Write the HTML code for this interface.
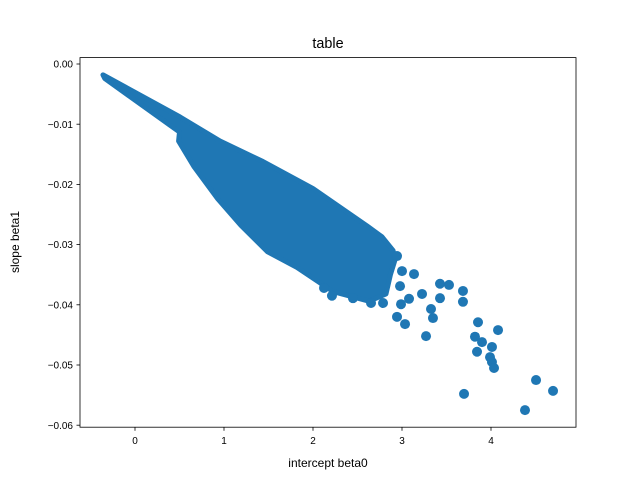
<!DOCTYPE html>
<html><head><meta charset="utf-8"><style>
body{margin:0;background:#fff}
svg text{font-family:"Liberation Sans",sans-serif;fill:#000}
</style></head><body>
<svg id="chart" width="640" height="480">
<rect width="640" height="480" fill="#fff"/>
<g id="marks"></g>
<g id="axes"></g>
<text x="328" y="48" font-size="14.4" text-anchor="middle">table</text>
<text x="328" y="467" font-size="12" text-anchor="middle">intercept beta0</text>
<text x="19" y="242" font-size="12" text-anchor="middle" transform="rotate(-90 19 242)">slope beta1</text>
</svg>
<script>
const xTicks=[0,1,2,3,4];
const yTicks=[0,-0.01,-0.02,-0.03,-0.04,-0.05,-0.06];
const yTickLabels=["0.00","−0.01","−0.02","−0.03","−0.04","−0.05","−0.06"];
// dense cloud outline (upper edge then lower edge)
const cloudUpperX=[-0.36,0.506,0.955,1.438,2.0,2.607,2.775,2.9,2.92];
const cloudUpperY=[-0.0018,-0.0088,-0.0128,-0.0162,-0.0207,-0.0269,-0.0287,-0.031,-0.0326];
const cloudLowerX=[-0.34,0.5,0.49,0.665,0.93,1.19,1.49,1.82,2.225,2.63,2.82,2.87];
const cloudLowerY=[-0.0024,-0.0113,-0.0128,-0.0171,-0.0224,-0.0268,-0.0312,-0.0338,-0.0378,-0.0394,-0.0382,-0.035];
const pointsX=[2.944,3.0,3.135,2.978,3.225,3.427,3.528,3.685,3.427,3.685,3.079,2.989,3.326,3.348,2.944,3.034,3.27,3.854,4.079,3.82,3.899,4.011,3.843,3.989,4.011,4.034,4.506,4.697,3.697,4.382,2.787,2.652,2.449,2.213,2.124];
const pointsY=[-0.0319,-0.0344,-0.0349,-0.0369,-0.0382,-0.0365,-0.0367,-0.0377,-0.0389,-0.0395,-0.039,-0.0399,-0.0407,-0.0422,-0.042,-0.0432,-0.0452,-0.0429,-0.0442,-0.0453,-0.0462,-0.047,-0.0478,-0.0487,-0.0495,-0.0505,-0.0525,-0.0543,-0.0548,-0.0575,-0.0397,-0.0397,-0.0389,-0.0385,-0.0372];

const L=80,R=576,T=57.6,B=427.2;
const xs=v=>135+v*89;
const ys=v=>64-v*6020;
const NS="http://www.w3.org/2000/svg";
const marks=document.getElementById('marks');
const axes=document.getElementById('axes');
const C="#1f77b4";

let pts=[];
for(let i=0;i<cloudUpperX.length;i++)pts.push(xs(cloudUpperX[i])+","+ys(cloudUpperY[i]));
for(let i=cloudLowerX.length-1;i>=0;i--)pts.push(xs(cloudLowerX[i])+","+ys(cloudLowerY[i]));
const poly=document.createElementNS(NS,'polygon');
poly.setAttribute('points',pts.join(' '));
poly.setAttribute('fill',C);poly.setAttribute('stroke',C);
poly.setAttribute('stroke-width','5');poly.setAttribute('stroke-linejoin','round');


marks.appendChild(poly);

for(let i=0;i<pointsX.length;i++){
  const c=document.createElementNS(NS,'circle');
  c.setAttribute('cx',xs(pointsX[i]));c.setAttribute('cy',ys(pointsY[i]));
  c.setAttribute('r','5');c.setAttribute('fill',C);
  
  
  marks.appendChild(c);
}

const frame=document.createElementNS(NS,'rect');
frame.setAttribute('x',L);frame.setAttribute('y',T);
frame.setAttribute('width',R-L);frame.setAttribute('height',B-T);
frame.setAttribute('fill','none');frame.setAttribute('stroke','#000');frame.setAttribute('stroke-width','0.8');


axes.appendChild(frame);

xTicks.forEach(v=>{
  const x=xs(v);
  const l=document.createElementNS(NS,'line');
  l.setAttribute('x1',x);l.setAttribute('x2',x);l.setAttribute('y1',B);l.setAttribute('y2',B+3.5);
  l.setAttribute('stroke','#000');l.setAttribute('stroke-width','0.8');
  
  
  axes.appendChild(l);
  const t=document.createElementNS(NS,'text');
  t.setAttribute('x',x);t.setAttribute('y',B+17);t.setAttribute('font-size','10');t.setAttribute('text-anchor','middle');
  t.textContent=String(v);
  
  
  axes.appendChild(t);
});
yTicks.forEach((v,i)=>{
  const y=ys(v);
  const l=document.createElementNS(NS,'line');
  l.setAttribute('x1',L-3.5);l.setAttribute('x2',L);l.setAttribute('y1',y);l.setAttribute('y2',y);
  l.setAttribute('stroke','#000');l.setAttribute('stroke-width','0.8');
  
  
  axes.appendChild(l);
  const t=document.createElementNS(NS,'text');
  t.setAttribute('x',L-7);t.setAttribute('y',y+3.6);t.setAttribute('font-size','10');t.setAttribute('text-anchor','end');
  t.textContent=yTickLabels[i];
  
  
  axes.appendChild(t);
});
</script>
</body></html>
